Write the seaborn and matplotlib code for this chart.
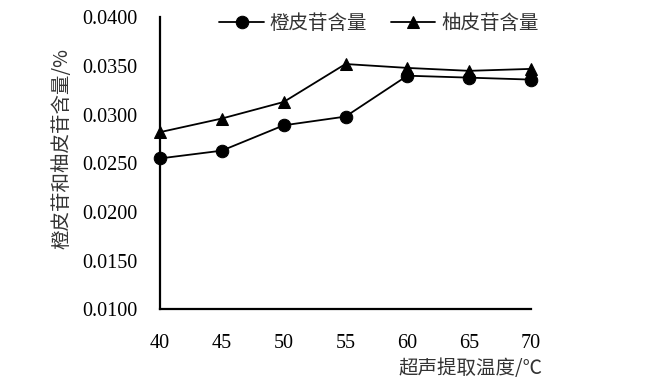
import matplotlib
matplotlib.use("Agg")
import matplotlib.pyplot as plt
import seaborn as sns
import pandas as pd
from matplotlib.ticker import FormatStrFormatter, FixedLocator

temps = [40, 45, 50, 55, 60, 65, 70]
hesperidin = [0.0255, 0.0263, 0.0289, 0.0298, 0.0340, 0.0338, 0.0336]
naringin = [0.0282, 0.0296, 0.0313, 0.0352, 0.0348, 0.0345, 0.0347]
series_names = ["橙皮苷含量", "柚皮苷含量"]
yticks = [0.0100, 0.0150, 0.0200, 0.0250, 0.0300, 0.0350, 0.0400]
xticks = [40, 45, 50, 55, 60, 65, 70]

sns.set_theme(style="white")
plt.rcParams['font.family'] = ['Liberation Serif', 'Noto Sans CJK SC', 'DejaVu Sans']
cjk = ['Noto Sans CJK SC', 'DejaVu Sans']

fig = plt.figure(figsize=(6.68, 3.83), dpi=100)
ax = fig.add_axes([160/668, 1-309.3/383, (531-160)/668, (309.3-17.3)/383])

df1 = pd.DataFrame({"t": temps, "v": hesperidin})
df2 = pd.DataFrame({"t": temps, "v": naringin})
sns.lineplot(data=df1, x="t", y="v", ax=ax, color="black", marker="o", markersize=9,
             linewidth=1.3, markeredgecolor="black", label=series_names[0], clip_on=False)
sns.lineplot(data=df2, x="t", y="v", ax=ax, color="black", marker="^", markersize=9,
             linewidth=1.3, markeredgecolor="black", label=series_names[1], clip_on=False)

ax.set_xlim(40, 70)
ax.set_ylim(0.0100, 0.0400)
ax.xaxis.set_major_locator(FixedLocator(xticks))
ax.yaxis.set_major_locator(FixedLocator(yticks))
ax.yaxis.set_major_formatter(FormatStrFormatter('%.4f'))

for s in ['top', 'right']:
    ax.spines[s].set_visible(False)
for s in ['left', 'bottom']:
    ax.spines[s].set_linewidth(1.6)
    ax.spines[s].set_color('black')

ax.tick_params(axis='both', direction='in', length=6, width=1.4, colors='black',
               labelsize=14.5, labelcolor='black')
ax.tick_params(axis='y', pad=16)
ax.tick_params(axis='x', pad=18)
for lab in ax.get_xticklabels() + ax.get_yticklabels():
    lab.set_family('Liberation Serif')

ax.set_xlabel("超声提取温度/℃", fontsize=14, color='#333333', family=cjk, ha='right')
ax.xaxis.set_label_coords(1.03, -0.168)
ax.set_ylabel("橙皮苷和柚皮苷含量/%", fontsize=14, color='#333333', family=cjk)
ax.yaxis.set_label_coords(-0.237, 0.55)

leg = ax.legend(loc='center', bbox_to_anchor=(0.59, 0.98), ncol=2, frameon=False,
                prop={'family': cjk, 'size': 14}, handlelength=2.3,
                columnspacing=1.2, handletextpad=0.3)
for t in leg.get_texts():
    t.set_color('#333333')

ax.grid(False)
fig.savefig("out.png", dpi=100)
